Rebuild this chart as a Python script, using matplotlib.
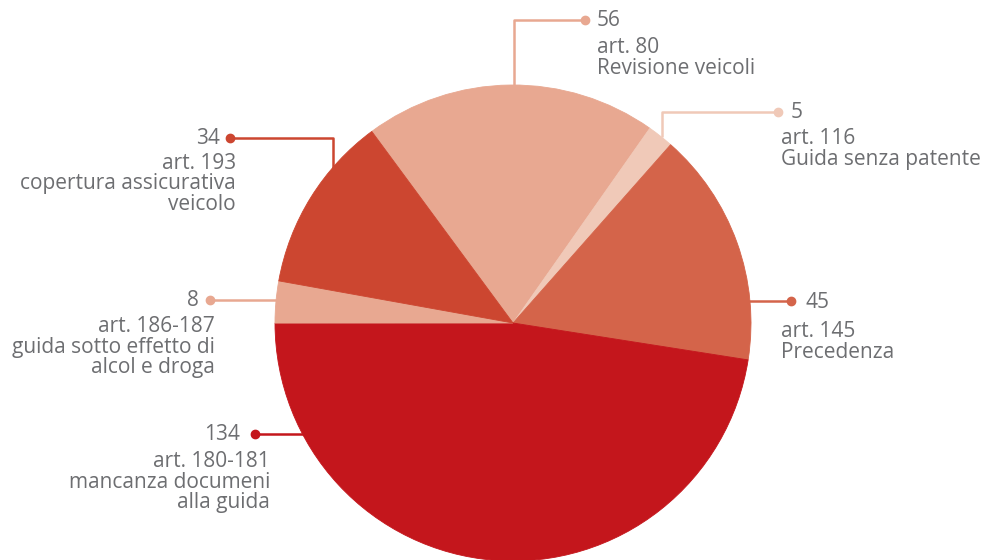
import numpy as np
import matplotlib.pyplot as plt

values = [56, 5, 45, 134, 8, 34]
articles = ['art. 80', 'art. 116', 'art. 145', 'art. 180-181', 'art. 186-187', 'art. 193']
descriptions = [['Revisione veicoli'], ['Guida senza patente'], ['Precedenza'],
                ['mancanza documeni', 'alla guida'], ['guida sotto effetto di', 'alcol e droga'],
                ['copertura assicurativa', 'veicolo']]
colors = ['#e8a891', '#f0c9b8', '#d4644a', '#c4161c', '#e8a891', '#cc4630']

W, H = 985, 560
CX, CY, R = 513, 323, 238
TEXT = '#6d6e71'
PITCH = 20.5

plt.rcParams['font.family'] = ['Open Sans', 'DejaVu Sans']

fig = plt.figure(figsize=(W / 100, H / 100), dpi=100)
ax = fig.add_axes([0, 0, 1, 1])

wedges, _ = ax.pie(values, colors=colors, startangle=126.4, counterclock=False,
                   center=(CX, H - CY), radius=R)
for w in wedges:
    w.set_edgecolor(w.get_facecolor())
    w.set_linewidth(0.6)

ax.set_xlim(0, W)
ax.set_ylim(0, H)
ax.set_aspect('equal')
ax.axis('off')


def py(y):
    return H - y


def edge_y(x):
    return CY - np.sqrt(R ** 2 - (x - CX) ** 2)


def edge_x_left(y):
    return CX - np.sqrt(R ** 2 - (y - CY) ** 2)


def edge_x_right(y):
    return CX + np.sqrt(R ** 2 - (y - CY) ** 2)


# leader path (pixels), number x, text x, first text baseline, alignment
layout = [
    ([(514, edge_y(514)), (514, 20), (585, 20)], 597, 597, 53, 'left'),
    ([(662, edge_y(662)), (662, 112), (778, 112)], 791, 781, 144, 'left'),
    ([(edge_x_right(301) - 2, 301), (791, 301)], 805, 781, 337, 'left'),
    ([(edge_x_left(434) + 2, 434), (255, 434)], 240, 270, 467, 'right'),
    ([(edge_x_left(300) + 2, 300), (210, 300)], 199, 215, 332, 'right'),
    ([(333, edge_y(333) + 4), (333, 138), (230, 138)], 220, 236, 169, 'right'),
]

for i, (pts, nx, tx, base, al) in enumerate(layout):
    xs = [p[0] for p in pts]
    ys = [py(p[1]) for p in pts]
    ax.plot(xs, ys, color=colors[i], lw=1.8, solid_capstyle='butt', zorder=3)
    ax.plot(xs[-1], ys[-1], 'o', color=colors[i], ms=6, zorder=4)
    ax.text(nx, py(pts[-1][1] + 6.5), str(values[i]), ha=al, va='baseline',
            fontsize=15, color=TEXT)
    for j, line in enumerate([articles[i]] + descriptions[i]):
        ax.text(tx, py(base + j * PITCH), line, ha=al, va='baseline',
                fontsize=15, color=TEXT)

fig.savefig('out.png', dpi=100)
